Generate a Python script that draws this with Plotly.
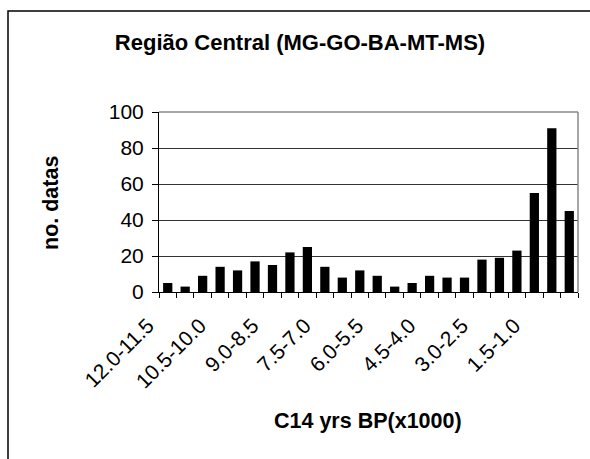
import plotly.graph_objects as go

categories = ["12.0-11.5", "11.5-11.0", "11.0-10.5", "10.5-10.0", "10.0-9.5", "9.5-9.0",
              "9.0-8.5", "8.5-8.0", "8.0-7.5", "7.5-7.0", "7.0-6.5", "6.5-6.0",
              "6.0-5.5", "5.5-5.0", "5.0-4.5", "4.5-4.0", "4.0-3.5", "3.5-3.0",
              "3.0-2.5", "2.5-2.0", "2.0-1.5", "1.5-1.0", "1.0-0.5", "0.5-0.0"]
counts = [5, 3, 9, 14, 12, 17, 15, 22, 25, 14, 8, 12, 9, 3, 5, 9, 8, 8, 18, 19, 23, 55, 91, 45]
tick_labels = [c if i % 3 == 0 else "" for i, c in enumerate(categories)]
y_ticks = [0, 20, 40, 60, 80, 100]

W, H = 590, 459
L, R, T, B = 159, 12, 112, 167
pw, ph = W - L - R, H - T - B


def px_to_paper_x(px):
    return (px - L) / pw


def px_to_paper_y(py):
    return (H - B - py) / ph


FONT = "Liberation Sans, Arial, sans-serif"

fig = go.Figure(go.Bar(x=categories, y=counts, marker=dict(color="black", line=dict(width=0)),
                       width=0.53))

fig.update_layout(
    width=W, height=H,
    margin=dict(l=L, r=R, t=T, b=B),
    paper_bgcolor="white", plot_bgcolor="white",
    font=dict(family=FONT, color="black"),
    showlegend=False,
    title=dict(text="<b>Região Central (MG-GO-BA-MT-MS)</b>", x=300 / W, xanchor="center",
               y=1 - 42 / H, yanchor="middle", font=dict(size=22, family=FONT)),
)

fig.update_xaxes(
    type="category", tickvals=categories, ticktext=tick_labels, tickson="boundaries",
    tickangle=-45, tickfont=dict(size=21), ticks="outside", ticklen=5, tickcolor="black",
    ticklabelstandoff=12, ticklabelshift=-20,
    showline=True, linecolor="black", linewidth=1, showgrid=False, mirror=False,
)
fig.update_yaxes(
    range=[0, 100], tickvals=y_ticks, tickfont=dict(size=21), ticks="outside", ticklen=6,
    ticklabelstandoff=4,
    tickcolor="black", showline=True, linecolor="black", linewidth=1,
    showgrid=True, gridcolor="#333333", gridwidth=1, zeroline=False,
)

# plot-area border (gray, top and right)
fig.add_shape(type="line", xref="paper", yref="paper", x0=0, x1=1, y0=1, y1=1,
              line=dict(color="#888888", width=1.5))
fig.add_shape(type="line", xref="paper", yref="paper", x0=1, x1=1, y0=0, y1=1,
              line=dict(color="#888888", width=1.5))

# outer chart frame
fig.add_shape(type="rect", xref="paper", yref="paper",
              x0=px_to_paper_x(8), x1=px_to_paper_x(620),
              y0=px_to_paper_y(490), y1=px_to_paper_y(11),
              line=dict(color="black", width=1.5), fillcolor="rgba(0,0,0,0)")

fig.add_annotation(text="<b>C14 yrs BP(x1000)</b>", xref="paper", yref="paper",
                   x=px_to_paper_x(367.5), y=px_to_paper_y(421), xanchor="center",
                   yanchor="middle", showarrow=False, font=dict(size=21.5, family=FONT))
fig.add_annotation(text="<b>no. datas</b>", xref="paper", yref="paper",
                   x=px_to_paper_x(50.5), y=px_to_paper_y(203.5), xanchor="center",
                   yanchor="middle", textangle=-90, showarrow=False,
                   font=dict(size=21.5, family=FONT))

fig.write_html("out.html", config={"displayModeBar": False},
               post_script="document.body.style.margin='0';document.body.style.overflow='hidden';")
